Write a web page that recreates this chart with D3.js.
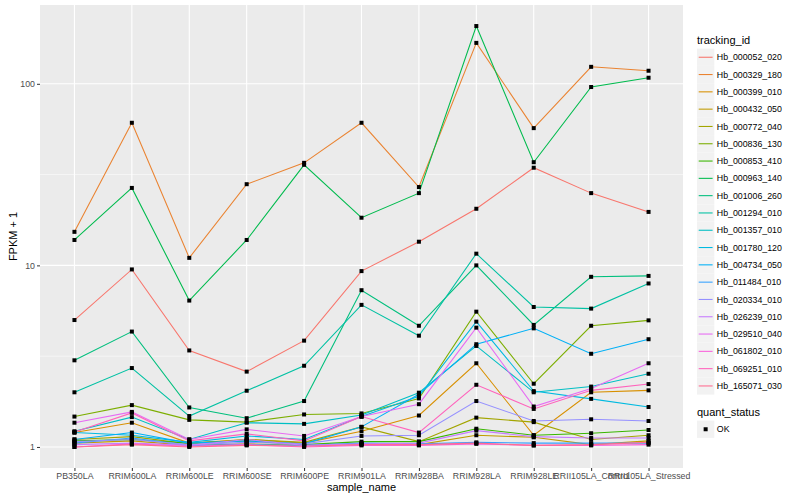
<!DOCTYPE html>
<html>
<head>
<meta charset="utf-8">
<script src="https://cdn.jsdelivr.net/npm/d3@7"></script>
<style>
  body { margin: 0; background: #fff; }
  svg { font-family: "Liberation Sans", Arial, sans-serif; }
</style>
</head>
<body>
<div id="chart"></div>
<script>
const samples = ['PB350LA', 'RRIM600LA', 'RRIM600LE', 'RRIM600SE', 'RRIM600PE', 'RRIM901LA',
  'RRIM928BA', 'RRIM928LA', 'RRIM928LE', 'RRII105LA_Control', 'RRII105LA_Stressed'];

const trackingIds = ['Hb_000052_020', 'Hb_000329_180', 'Hb_000399_010', 'Hb_000432_050', 'Hb_000772_040',
  'Hb_000836_130', 'Hb_000853_410', 'Hb_000963_140', 'Hb_001006_260', 'Hb_001294_010',
  'Hb_001357_010', 'Hb_001780_120', 'Hb_004734_050', 'Hb_011484_010', 'Hb_020334_010',
  'Hb_026239_010', 'Hb_029510_040', 'Hb_061802_010', 'Hb_069251_010', 'Hb_165071_030'];

// FPKM + 1, one row per tracking_id, columns follow samples
const hb000052 = [5.0, 9.5, 3.4, 2.6, 3.85, 9.3, 13.5, 20.5, 34.5, 25, 19.7];
const hb000329 = [15.3, 61, 11, 28, 36.7, 61, 27, 168, 57, 124, 118];
const hb000399 = [1.2, 1.36, 1.05, 1.1, 1.05, 1.22, 1.49, 2.89, 1.16, 2.0, 2.05];
const hb000432 = [1.05, 1.08, 1.02, 1.04, 1.02, 1.04, 1.03, 1.16, 1.13, 1.03, 1.08];
const hb000772 = [1.1, 1.14, 1.04, 1.1, 1.06, 1.29, 1.07, 1.45, 1.37, 1.10, 1.16];
const hb000836 = [1.47, 1.70, 1.41, 1.37, 1.51, 1.53, 1.85, 5.56, 2.23, 4.65, 4.98];
const hb000853 = [1.08, 1.1, 1.05, 1.08, 1.03, 1.07, 1.07, 1.26, 1.16, 1.19, 1.24];
const hb000963 = [13.8, 26.7, 6.4, 13.8, 35.8, 18.3, 25, 208, 37, 96, 108];
const hb001006 = [3.0, 4.32, 1.65, 1.44, 1.79, 7.3, 4.65, 10.0, 4.7, 8.65, 8.75];
const hb001294 = [2.0, 2.72, 1.48, 2.04, 2.80, 6.06, 4.1, 11.6, 5.9, 5.78, 7.95];
const hb001357 = [1.22, 1.46, 1.10, 1.36, 1.34, 1.50, 1.99, 3.6, 2.0, 2.15, 2.53];
const hb001780 = [1.2, 1.16, 1.06, 1.15, 1.1, 1.47, 1.9, 4.9, 2.03, 1.84, 1.66];
const hb004734 = [1.1, 1.2, 1.05, 1.08, 1.04, 1.29, 1.95, 3.68, 4.5, 3.26, 3.92];
const hb011484 = [1.05, 1.12, 1.02, 1.03, 1.02, 1.05, 1.04, 1.06, 1.05, 1.05, 1.05];
const hb020334 = [1.07, 1.1, 1.03, 1.06, 1.04, 1.15, 1.16, 1.79, 1.39, 1.42, 1.39];
const hb026239 = [1.03, 1.05, 1.02, 1.1, 1.02, 1.04, 1.05, 1.23, 1.14, 1.12, 1.12];
const hb029510 = [1.36, 1.56, 1.1, 1.25, 1.15, 1.47, 1.72, 4.54, 1.67, 2.1, 2.89];
const hb061802 = [1.0, 1.04, 1.01, 1.03, 1.0, 1.02, 1.02, 1.04, 1.02, 1.02, 1.03];
const hb069251 = [1.21, 1.54, 1.08, 1.18, 1.08, 1.47, 1.2, 2.2, 1.62, 2.05, 2.22];
const hb165071 = [1.0, 1.03, 1.0, 1.02, 1.01, 1.03, 1.03, 1.05, 1.02, 1.03, 1.06];

const seriesValues = [hb000052, hb000329, hb000399, hb000432, hb000772, hb000836, hb000853,
  hb000963, hb001006, hb001294, hb001357, hb001780, hb004734, hb011484, hb020334,
  hb026239, hb029510, hb061802, hb069251, hb165071];

const yTicks = [1, 10, 100];
const yMinor = [Math.sqrt(10), Math.sqrt(1000)];

// ggplot's default hue palette for 20 levels
const palette = ['#F8766D', '#EA8331', '#D89000', '#C09B00', '#A3A500', '#7CAE00', '#39B600',
  '#00BB4E', '#00BF7D', '#00C1A3', '#00BFC4', '#00BAE0', '#00B0F6', '#35A2FF', '#9590FF',
  '#C77CFF', '#E76BF3', '#FA62DB', '#FF62BC', '#FF6C91'];

const W = 800, H = 500;
const panel = { left: 40, top: 5, right: 683, bottom: 468 };

const series = trackingIds.map((id, i) => ({
  id,
  color: palette[i],
  values: samples.map((s, j) => ({ sample: s, value: seriesValues[i][j] })),
}));

const svg = d3.select('#chart').append('svg')
  .attr('width', W)
  .attr('height', H);

const x = d3.scalePoint()
  .domain(samples)
  .range([panel.left, panel.right])
  .padding(0.6);

const allVals = seriesValues.flat();
const lo = Math.log10(d3.min(allVals));
const hi = Math.log10(d3.max(allVals));
const pad = (hi - lo) * 0.05;
const y = d3.scaleLog()
  .domain([10 ** (lo - pad), 10 ** (hi + pad)])
  .range([panel.bottom, panel.top]);

svg.append('rect')
  .attr('x', panel.left)
  .attr('y', panel.top)
  .attr('width', panel.right - panel.left)
  .attr('height', panel.bottom - panel.top)
  .attr('fill', '#EBEBEB');

const grid = svg.append('g');

grid.selectAll('line.minor')
  .data(yMinor)
  .join('line')
  .attr('class', 'minor')
  .attr('x1', panel.left).attr('x2', panel.right)
  .attr('y1', (d) => y(d)).attr('y2', (d) => y(d))
  .attr('stroke', '#fff')
  .attr('stroke-width', 0.55);

grid.selectAll('line.hmajor')
  .data(yTicks)
  .join('line')
  .attr('class', 'hmajor')
  .attr('x1', panel.left).attr('x2', panel.right)
  .attr('y1', (d) => y(d)).attr('y2', (d) => y(d))
  .attr('stroke', '#fff')
  .attr('stroke-width', 1.1);

grid.selectAll('line.vmajor')
  .data(samples)
  .join('line')
  .attr('class', 'vmajor')
  .attr('x1', (d) => x(d)).attr('x2', (d) => x(d))
  .attr('y1', panel.top).attr('y2', panel.bottom)
  .attr('stroke', '#fff')
  .attr('stroke-width', 1.1);

const line = d3.line()
  .x((d) => x(d.sample))
  .y((d) => y(d.value));

svg.append('g')
  .selectAll('path')
  .data(series)
  .join('path')
  .attr('d', (d) => line(d.values))
  .attr('fill', 'none')
  .attr('stroke', (d) => d.color)
  .attr('stroke-width', 1.07);

svg.append('g')
  .selectAll('rect')
  .data(series.flatMap((s) => s.values))
  .join('rect')
  .attr('x', (d) => x(d.sample) - 2)
  .attr('y', (d) => y(d.value) - 2)
  .attr('width', 4)
  .attr('height', 4)
  .attr('fill', '#000');

// axes
const xAxis = svg.append('g')
  .attr('transform', `translate(0,${panel.bottom})`)
  .call(d3.axisBottom(x).tickSize(3).tickPadding(2));
xAxis.select('.domain').remove();
xAxis.selectAll('line').attr('stroke', '#333333');
xAxis.selectAll('text').attr('fill', '#4D4D4D').attr('font-size', '8.8px');

const yAxis = svg.append('g')
  .attr('transform', `translate(${panel.left},0)`)
  .call(d3.axisLeft(y).tickValues(yTicks).tickFormat(d3.format('d')).tickSize(3).tickPadding(2));
yAxis.select('.domain').remove();
yAxis.selectAll('line').attr('stroke', '#333333');
yAxis.selectAll('text').attr('fill', '#4D4D4D').attr('font-size', '8.8px');

svg.append('text')
  .attr('x', (panel.left + panel.right) / 2)
  .attr('y', 491)
  .attr('text-anchor', 'middle')
  .attr('font-size', '11px')
  .text('sample_name');

svg.append('text')
  .attr('transform', `translate(17,${(panel.top + panel.bottom) / 2}) rotate(-90)`)
  .attr('text-anchor', 'middle')
  .attr('font-size', '11px')
  .text('FPKM + 1');

// legends
const legend = svg.append('g').attr('transform', 'translate(697,0)');
const keySize = 17.3;

legend.append('text')
  .attr('x', 0)
  .attr('y', 44)
  .attr('font-size', '11px')
  .text('tracking_id');

const keys = legend.selectAll('g.key')
  .data(series)
  .join('g')
  .attr('class', 'key')
  .attr('transform', (d, i) => `translate(0,${48.6 + i * keySize})`);

keys.append('rect')
  .attr('width', keySize)
  .attr('height', keySize)
  .attr('fill', '#F2F2F2');

keys.append('line')
  .attr('x1', 1.7).attr('x2', keySize - 1.7)
  .attr('y1', keySize / 2).attr('y2', keySize / 2)
  .attr('stroke', (d) => d.color)
  .attr('stroke-width', 1.07);

keys.append('text')
  .attr('x', keySize + 2.5)
  .attr('y', keySize / 2)
  .attr('dy', '0.35em')
  .attr('font-size', '8.8px')
  .text((d) => d.id);

legend.append('text')
  .attr('x', 0)
  .attr('y', 416)
  .attr('font-size', '11px')
  .text('quant_status');

const okKey = legend.append('g').attr('transform', 'translate(0,420.6)');
okKey.append('rect')
  .attr('width', keySize)
  .attr('height', keySize)
  .attr('fill', '#F2F2F2');
okKey.append('rect')
  .attr('x', keySize / 2 - 2)
  .attr('y', keySize / 2 - 2)
  .attr('width', 4)
  .attr('height', 4)
  .attr('fill', '#000');
okKey.append('text')
  .attr('x', keySize + 2.5)
  .attr('y', keySize / 2)
  .attr('dy', '0.35em')
  .attr('font-size', '8.8px')
  .text('OK');
</script>
</body>
</html>
